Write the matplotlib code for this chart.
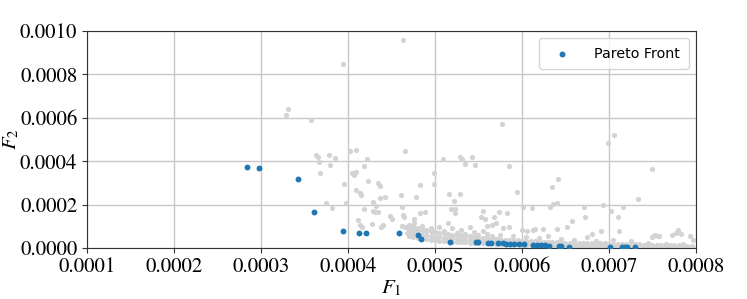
import numpy as np
import matplotlib
matplotlib.use("Agg")
import matplotlib.pyplot as plt

# --- Data (x in units of 1e-4, y in units of 1e-5) ---

# Pareto front points
pareto_x = [2.84, 2.98, 3.43, 3.61, 3.94, 4.13, 4.21, 4.59, 4.80, 4.84,
            5.17, 5.47, 5.50, 5.61, 5.64, 5.72, 5.78, 5.82, 5.86, 5.91,
            5.96, 6.02, 6.13, 6.17, 6.22, 6.26, 6.31, 6.42, 6.45, 6.54,
            7.01, 7.15, 7.18, 7.21, 7.30]
pareto_y = [37.3, 37.0, 31.8, 16.6, 7.8, 6.9, 6.9, 6.9, 6.0, 4.1,
            2.8, 2.8, 2.7, 2.3, 2.3, 2.2, 2.1, 2.0, 2.0, 1.8,
            1.8, 1.7, 1.4, 1.4, 1.3, 1.2, 1.1, 1.0, 0.9, 0.5,
            0.4, 0.35, 0.35, 0.3, 0.3]

# scattered dominated solutions
other_x = [4.63, 3.94, 3.31, 3.29, 3.58, 5.77, 7.06, 6.99,
           7.49, 7.33, 6.93, 7.02, 7.16, 7.10, 7.12, 6.57, 6.72, 6.91, 6.80, 6.75,
           7.49, 7.53, 7.57, 7.72, 7.79, 7.83, 7.93, 7.97,
           3.63, 3.66, 3.78, 3.85, 3.67, 3.79, 3.68, 4.02, 4.09, 4.22,
           4.18, 4.66, 4.05, 4.07, 4.09, 3.95, 4.23, 4.35, 4.37, 4.09,
           4.14, 4.15, 4.61, 4.78, 4.37, 4.43, 3.75, 3.98, 3.82, 4.29,
           4.32, 4.18, 4.29, 4.31, 4.35, 4.62, 4.63, 4.64, 4.48, 4.51,
           4.76, 4.76, 4.11, 4.14, 4.16, 4.28, 4.38, 4.40, 4.62, 4.66,
           4.69, 4.71, 4.74, 4.77, 4.78, 4.68, 4.77, 4.79,
           5.09, 5.29, 5.31, 5.43, 5.34, 5.46, 4.99, 4.99, 4.83, 5.85,
           5.94, 6.41, 6.34, 5.16, 5.29, 5.22, 5.18, 5.23, 5.23, 5.55,
           5.53, 5.57, 5.68, 5.74, 5.83, 6.01, 6.11, 6.32, 6.36, 6.40,
           4.89, 4.83, 5.65, 5.70, 5.60, 5.15, 6.00, 6.06, 6.15, 6.40,
           6.52, 5.78, 5.85, 6.71, 6.24, 6.13, 7.51, 7.56, 7.77,
           4.85, 4.90, 4.95, 5.00, 5.05, 5.10, 5.20, 5.25, 5.30, 5.35,
           5.40, 5.45, 5.50, 5.55, 5.60, 5.65, 5.75, 5.90, 6.05, 6.20,
           6.30, 6.45, 6.60, 6.85, 7.05, 7.25, 7.45, 7.65, 7.85]
other_y = [95.8, 84.8, 64.0, 61.3, 59.0, 57.1, 52.0, 48.4,
           36.4, 22.6, 19.8, 17.0, 18.9, 14.3, 7.8, 12.4, 14.3, 7.8, 6.5, 5.0,
           5.0, 6.0, 5.5, 6.0, 8.3, 6.5, 5.5, 3.7,
           42.9, 41.9, 42.9, 41.5, 39.6, 38.2, 34.6, 44.7, 45.2, 41.0,
           37.8, 44.7, 34.6, 33.6, 35.0, 29.5, 30.9, 30.0, 28.6, 26.7,
           25.3, 24.4, 24.4, 23.5, 23.0, 23.5, 20.7, 20.7, 18.4, 21.2,
           19.4, 18.0, 17.1, 16.6, 16.6, 18.9, 15.2, 14.3, 14.7, 13.4,
           13.4, 11.5, 12.9, 10.6, 9.7, 11.1, 9.7, 10.6, 10.1, 9.7,
           9.2, 8.8, 8.3, 9.2, 8.5, 6.9, 6.9, 7.5,
           41.0, 41.9, 41.0, 41.9, 38.7, 38.2, 34.6, 29.5, 29.0, 37.8,
           25.8, 31.8, 28.1, 24.9, 24.9, 21.7, 18.0, 18.0, 16.1, 17.1,
           14.3, 13.4, 14.3, 16.6, 16.1, 18.9, 18.4, 18.9, 20.3, 20.7,
           16.6, 16.1, 10.6, 11.5, 10.1, 11.5, 8.3, 7.8, 8.8, 8.8,
           9.7, 9.2, 9.7, 18.9, 8.8, 8.3, 5.5, 5.5, 7.0,
           10.0, 8.5, 9.0, 7.5, 9.5, 8.0, 9.0, 7.0, 8.5, 6.5,
           9.5, 7.5, 6.0, 8.0, 6.5, 5.5, 6.0, 5.5, 5.0, 4.5,
           5.5, 4.0, 3.5, 3.0, 3.5, 3.0, 2.5, 2.0, 2.0]

# dense band of dominated solutions just above the front
band_x = [4.70, 4.75, 4.80, 4.85, 4.90, 4.95, 5.00, 5.05, 5.10, 5.15,
          5.20, 5.25, 5.30, 5.35, 5.40, 5.45, 5.50, 5.55, 5.60, 5.65,
          5.70, 5.75, 5.80, 5.85, 5.90, 5.95, 6.00, 6.05, 6.10, 6.15,
          6.20, 6.25, 6.30, 6.35, 6.40, 6.45, 6.50, 6.55, 6.60, 6.65,
          6.70, 6.75, 6.80, 6.85, 6.90, 6.95, 7.00, 7.05, 7.10, 7.15,
          7.20, 7.25, 7.30, 7.35, 7.40, 7.45, 7.50, 7.55, 7.60, 7.65,
          7.70, 7.75, 7.80, 7.85, 7.90, 7.95]
band_low = [5.5, 5.0, 4.6, 4.2, 4.0, 3.8, 3.6, 3.4, 3.2, 3.0,
            2.9, 2.8, 2.7, 2.6, 2.5, 2.4, 2.3, 2.3, 2.2, 2.1,
            2.0, 2.0, 1.9, 1.8, 1.8, 1.7, 1.6, 1.6, 1.5, 1.4,
            1.3, 1.3, 1.2, 1.1, 1.0, 1.0, 0.9, 0.9, 0.8, 0.7,
            0.7, 0.6, 0.6, 0.5, 0.5, 0.5, 0.4, 0.4, 0.4, 0.4,
            0.3, 0.3, 0.3, 0.3, 0.3, 0.2, 0.2, 0.2, 0.2, 0.2,
            0.2, 0.2, 0.2, 0.2, 0.2, 0.2]
band_mid = [7.5, 7.0, 6.5, 6.0, 5.8, 5.5, 5.2, 5.0, 4.8, 4.6,
            4.4, 4.2, 4.0, 3.9, 3.8, 3.6, 3.5, 3.4, 3.3, 3.2,
            3.1, 3.0, 2.9, 2.8, 2.7, 2.6, 2.5, 2.4, 2.3, 2.2,
            2.1, 2.0, 1.9, 1.9, 1.8, 1.7, 1.6, 1.6, 1.5, 1.5,
            1.4, 1.4, 1.3, 1.3, 1.2, 1.2, 1.1, 1.1, 1.0, 1.0,
            0.9, 0.9, 0.9, 0.8, 0.8, 0.8, 0.7, 0.7, 0.7, 0.6,
            0.6, 0.6, 0.5, 0.5, 0.5, 0.5]
band_high = [10.5, 9.5, 9.0, 8.5, 8.0, 7.8, 7.5, 7.0, 6.8, 6.5,
             6.2, 6.0, 5.8, 5.5, 5.3, 5.0, 4.8, 4.6, 4.5, 4.3,
             4.2, 4.0, 3.9, 3.8, 3.6, 3.5, 3.4, 3.3, 3.2, 3.1,
             3.0, 2.9, 2.8, 2.8, 2.7, 2.6, 2.5, 2.5, 2.4, 2.4,
             2.3, 2.3, 2.2, 2.2, 2.1, 2.1, 2.0, 2.0, 1.9, 1.9,
             1.8, 1.8, 1.7, 1.7, 1.6, 1.6, 1.5, 1.5, 1.4, 1.4,
             1.3, 1.3, 1.2, 1.2, 1.1, 1.1]

x_ticks = [0.0001, 0.0002, 0.0003, 0.0004, 0.0005, 0.0006, 0.0007, 0.0008]
y_ticks = [0.0000, 0.0002, 0.0004, 0.0006, 0.0008, 0.0010]

# --- Plot ---
plt.rcParams['font.family'] = 'STIXGeneral'
plt.rcParams['mathtext.fontset'] = 'stix'

fig = plt.figure(figsize=(7.47, 2.99), dpi=100)
ax = fig.add_axes([0.1165, 0.1706, 0.8152, 0.7257])

gx = np.concatenate([other_x, band_x, band_x, band_x]) * 1e-4
gy = np.concatenate([other_y, band_low, band_mid, band_high]) * 1e-5
ax.scatter(gx, gy, s=14, color='#d3d3d3', linewidths=0, zorder=2)
ax.scatter(np.array(pareto_x) * 1e-4, np.array(pareto_y) * 1e-5, s=18,
           color='#1f77b4', linewidths=0, zorder=3, label='Pareto Front')

ax.set_xlim(0.0001, 0.0008)
ax.set_ylim(0, 0.0010)
ax.set_xticks(x_ticks)
ax.set_xticklabels([f"{t:.4f}" for t in x_ticks])
ax.set_yticks(y_ticks)
ax.set_yticklabels([f"{t:.4f}" for t in y_ticks])
ax.tick_params(labelsize=15, length=3.5, color='#333333')
ax.grid(True, color='#c8c8c8', linewidth=1.0, zorder=0)
ax.set_axisbelow(True)
for sp in ax.spines.values():
    sp.set_color('#333333')

ax.set_xlabel('$F_1$', fontsize=15, labelpad=1)
ax.set_ylabel('$F_2$', fontsize=15, labelpad=-1)

leg = ax.legend(loc='upper right', prop={'family': 'DejaVu Sans', 'size': 10.3},
                handletextpad=1.25, borderpad=0.6, framealpha=0.8,
                edgecolor='#cccccc', fancybox=True)

fig.savefig('out.png', dpi=100)
